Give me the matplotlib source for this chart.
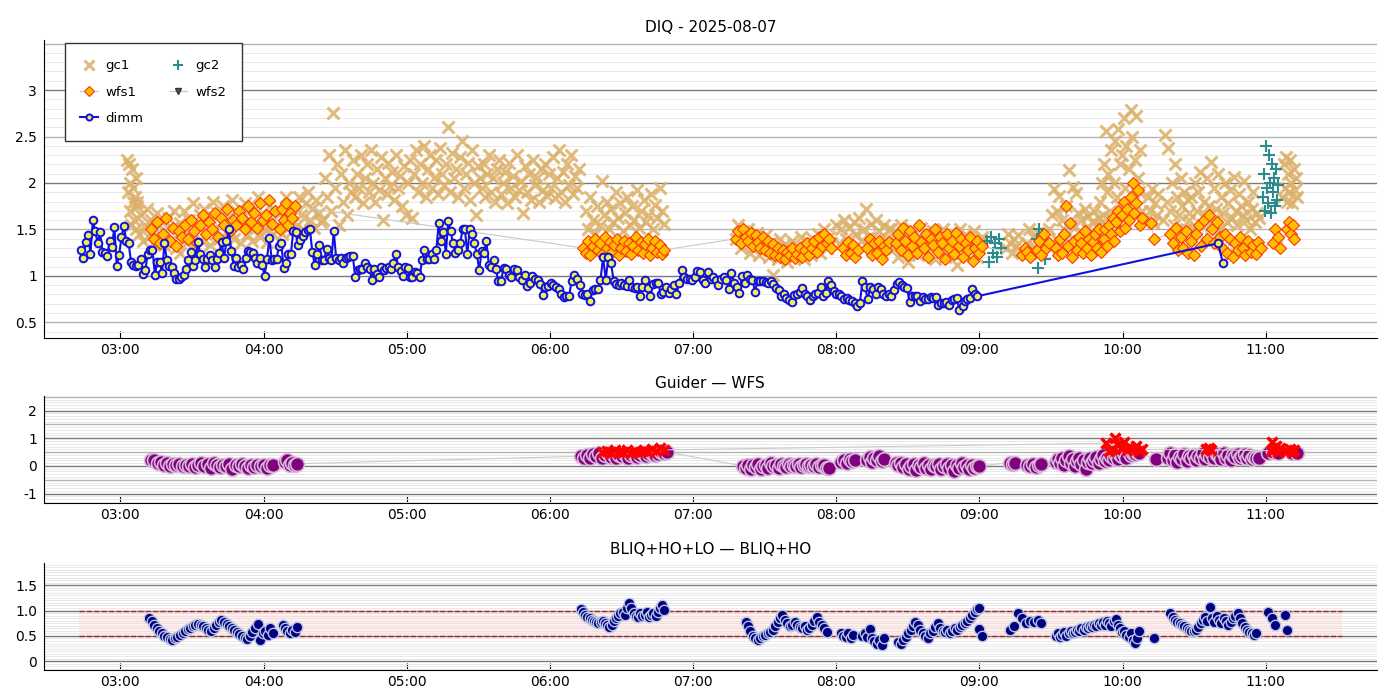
import numpy as np
import matplotlib
matplotlib.use("Agg")
import matplotlib.pyplot as plt
from matplotlib.ticker import MultipleLocator, FixedLocator, FuncFormatter

# ============================
# data (times "HH:MM", values in arcsec)
# ============================
day = "2025-08-07"

# dimm: blocks of consecutive readings (start, end, values)
dimm_blocks = [
    ("02:43.5", "05:38.4", [
        1.28, 1.19, 1.36, 1.44, 1.24, 1.60, 1.48, 1.35, 1.47, 1.26,
        1.25, 1.21, 1.37, 1.31, 1.53, 1.11, 1.22, 1.42, 1.54, 1.37,
        1.35, 1.15, 1.12, 1.11, 1.12, 1.18, 1.02, 1.06, 1.24, 1.28,
        1.28, 1.01, 1.15, 1.15, 1.03, 1.35, 1.17, 1.11, 1.09, 1.03,
        0.97, 0.97, 0.99, 1.01, 1.07, 1.17, 1.26, 1.11, 1.17, 1.36,
        1.24, 1.18, 1.10, 1.18, 1.22, 1.17, 1.10, 1.18, 1.25, 1.36,
        1.19, 1.37, 1.50, 1.27, 1.11, 1.19, 1.10, 1.12, 1.07, 1.19,
        1.27, 1.26, 1.25, 1.19, 1.14, 1.19, 1.12, 1.00, 1.18, 1.41,
        1.17, 1.18, 1.18, 1.32, 1.35, 1.08, 1.14, 1.24, 1.23, 1.48,
        1.47, 1.33, 1.39, 1.43, 1.47, 1.49, 1.50, 1.26, 1.12, 1.24,
        1.33, 1.17, 1.17, 1.29, 1.19, 1.17, 1.48, 1.19, 1.17, 1.19,
        1.14, 1.19, 1.20, 1.21, 1.21, 0.99, 1.06, 1.07, 1.07, 1.14,
        1.10, 1.07, 0.96, 1.07, 1.02, 0.99, 1.09, 1.06, 1.08, 1.09,
        1.07, 1.14, 1.24, 1.10, 1.05, 1.00, 1.09, 1.08, 0.99, 0.99,
        1.04, 1.03, 0.99, 1.17, 1.28, 1.18, 1.18, 1.24, 1.18, 1.28,
        1.57, 1.37, 1.47, 1.24, 1.59, 1.48, 1.35, 1.25, 1.28, 1.35,
        1.50, 1.50, 1.23, 1.50, 1.45, 1.35, 1.23, 1.06, 1.27, 1.25,
        1.37, 1.12, 1.09, 1.17, 1.07, 0.94]),
    ("05:39.5", "08:51.6", [
        0.95, 1.08, 1.07, 1.01, 0.99, 1.07, 1.06, 0.99, 0.96, 1.01,
        0.89, 0.92, 1.00, 0.97, 0.96, 0.91, 0.79, 0.88, 0.89, 0.92,
        0.90, 0.88, 0.86, 0.81, 0.77, 0.78, 0.78, 0.95, 1.01, 0.97,
        0.90, 0.81, 0.79, 0.81, 0.73, 0.85, 0.86, 0.86, 0.96, 1.20,
        0.96, 1.20, 1.14, 0.95, 0.91, 0.90, 0.92, 0.90, 0.89, 0.96,
        0.88, 0.87, 0.88, 0.78, 0.88, 0.96, 0.87, 0.78, 0.91, 0.92,
        0.92, 0.81, 0.83, 0.88, 0.82, 0.86, 0.90, 0.81, 0.92, 1.06,
        0.99, 0.97, 0.97, 0.96, 0.99, 1.05, 1.04, 0.96, 0.92, 1.04,
        0.97, 0.99, 0.96, 0.90, 0.97, 0.99, 0.96, 0.86, 1.03, 0.92,
        0.88, 0.82, 1.00, 0.92, 1.01, 0.97, 0.96, 0.83, 0.95, 0.94,
        0.95, 0.93, 0.92, 0.95, 0.91, 0.87, 0.85, 0.78, 0.81, 0.76,
        0.74, 0.72, 0.79, 0.81, 0.83, 0.87, 0.81, 0.78, 0.74, 0.78,
        0.81, 0.82, 0.88, 0.78, 0.82, 0.95, 0.90, 0.84, 0.81, 0.81,
        0.78, 0.75, 0.76, 0.74, 0.73, 0.71, 0.68, 0.71, 0.94, 0.88,
        0.75, 0.88, 0.86, 0.81, 0.88, 0.86, 0.81, 0.78, 0.81, 0.78,
        0.85, 0.91, 0.93, 0.90, 0.88, 0.87, 0.72, 0.78, 0.78, 0.78,
        0.73, 0.77, 0.75, 0.75, 0.77, 0.76, 0.77, 0.69, 0.71, 0.71,
        0.72, 0.69, 0.74, 0.75, 0.76, 0.63]),
    ("08:53", "08:59", [0.68, 0.73, 0.75, 0.76, 0.86, 0.81, 0.78]),
    ("10:40", "10:42", [1.35, 1.14]),
]

gc1_blocks = [
    ("03:03", "03:07", [2.25, 1.9, 2.2, 1.7, 2.0, 1.55, 2.15, 1.8, 1.95, 1.6, 1.85, 1.5, 2.05, 1.75]),
    ("03:07", "03:25", [1.8, 1.45, 1.65, 1.38, 1.55, 1.72, 1.42, 1.6, 1.35, 1.5, 1.68, 1.4, 1.58,
                        1.33, 1.47, 1.62, 1.36, 1.52, 1.7, 1.3, 1.45, 1.57]),
    ("03:25", "04:05", [1.25, 1.5, 1.7, 1.35, 1.6, 1.42, 1.78, 1.3, 1.55, 1.65, 1.38, 1.72, 1.45,
                        1.6, 1.33, 1.8, 1.5, 1.68, 1.4, 1.58, 1.75, 1.36, 1.62, 1.48, 1.82, 1.4,
                        1.7, 1.55, 1.35, 1.65, 1.78, 1.45, 1.6, 1.38, 1.72, 1.52, 1.85, 1.42,
                        1.66, 1.5, 1.36, 1.75, 1.58, 1.45, 1.7]),
    ("04:06", "04:13", [1.5, 1.7, 1.45, 1.62, 1.85, 1.55, 1.68, 1.48, 1.75]),
    ("04:14", "04:24", [1.55, 1.85, 1.65, 1.5, 1.78, 1.9, 1.6, 1.72, 1.52, 1.82, 1.68, 1.58]),
    ("04:25", "06:12", [1.6, 2.05, 1.85, 2.3, 1.7, 2.75, 1.95, 2.2, 1.55, 2.1, 1.8, 2.35, 1.65, 2.0, 1.9,
                        2.25, 1.85, 2.1, 1.95, 2.3, 1.78, 2.05, 2.2, 1.9, 2.35, 2.0, 1.8, 2.15, 1.92,
                        2.28, 1.6, 2.05, 1.88, 2.22, 1.97, 2.12, 1.82, 2.3, 1.95, 2.08, 1.75, 2.18,
                        1.66, 2.0, 2.25,
                        1.62, 2.1, 2.35, 1.9, 2.2, 2.0, 2.4, 1.85, 2.15, 2.3, 1.95, 2.05, 2.25, 1.88,
                        2.38, 2.1, 1.98, 2.2, 2.6, 1.9, 2.32, 2.05, 2.15, 1.85, 2.28, 2.45, 1.95, 2.1,
                        2.22, 1.82, 2.35, 2.0, 1.66, 2.18, 2.05,
                        1.95, 2.2, 1.85, 2.1, 2.3, 1.9, 2.05, 1.8, 2.15, 2.25, 1.88, 2.0, 2.12, 1.78,
                        2.22, 1.95, 2.08, 1.85, 2.3, 1.92, 2.02, 1.68, 2.18, 1.9, 2.1, 1.82, 2.25,
                        1.98, 2.05, 1.8, 2.15, 1.92, 2.2, 1.86, 2.1, 1.95, 2.28, 1.84, 2.05, 2.35,
                        1.9, 2.12, 1.8, 2.2, 1.98, 2.3, 1.88, 2.08, 1.95, 2.15]),
    ("06:15", "06:48", [1.7, 1.5, 1.85, 1.6, 1.45, 1.75, 1.55, 2.02, 1.65, 1.8, 1.5, 1.72, 1.58, 1.9,
                        1.62, 1.78, 1.48, 1.68, 1.85, 1.55, 1.75, 1.6, 1.92, 1.52, 1.7, 1.82, 1.58,
                        1.66, 1.88, 1.5, 1.76, 1.62, 1.95, 1.7, 1.56]),
    ("07:18", "07:58", [1.4, 1.55, 1.3, 1.48, 1.35, 1.5, 1.25, 1.42, 1.32, 1.46, 1.22, 1.38, 1.28,
                        1.44, 1.2, 1.35, 1.01, 1.3, 1.18, 1.4, 1.25, 1.34, 1.15, 1.28, 1.38, 1.2,
                        1.32, 1.24, 1.42, 1.18, 1.3, 1.36, 1.22, 1.4, 1.28, 1.45, 1.25, 1.38, 1.5,
                        1.3, 1.42, 1.35]),
    ("08:00", "08:22", [1.55, 1.35, 1.5, 1.6, 1.4, 1.52, 1.3, 1.58, 1.45, 1.62, 1.38, 1.5, 1.72,
                        1.42, 1.56, 1.35, 1.6, 1.48, 1.3, 1.55, 1.4, 1.5]),
    ("08:23", "09:01", [1.5, 1.3, 1.45, 1.2, 1.55, 1.35, 1.42, 1.15, 1.5, 1.28, 1.4, 1.22, 1.52,
                        1.33, 1.45, 1.25, 1.38, 1.48, 1.18, 1.42, 1.3, 1.5, 1.2, 1.36, 1.46, 1.25,
                        1.4, 1.12, 1.5, 1.32, 1.44, 1.22, 1.38, 1.28, 1.48, 1.2, 1.35, 1.42]),
    ("09:11", "09:17", [1.3, 1.45, 1.35, 1.25, 1.4, 1.32, 1.44, 1.28]),
    ("09:20", "09:27", [1.35, 1.5, 1.28, 1.42, 1.3, 1.46, 1.25, 1.38, 1.45]),
    ("09:29", "09:50", [1.5, 1.3, 1.65, 1.93, 1.4, 1.7, 1.86, 1.35, 1.6, 1.5, 1.75, 1.45, 2.14, 1.55,
                        1.96, 1.38, 1.89, 1.68, 1.48, 1.6, 1.32, 1.72, 1.5, 1.64, 1.42, 1.58, 1.7,
                        1.36, 1.55, 1.62]),
    ("09:50", "10:08", [1.55, 1.8, 2.0, 1.65, 2.2, 2.56, 1.9, 2.1, 1.7, 2.35, 1.6, 2.0, 2.45, 1.85,
                        2.58, 2.2, 1.75, 2.3, 2.7, 1.95, 2.4, 1.65, 2.15, 2.79, 2.5, 1.8, 2.25, 2.72,
                        2.05, 1.9, 2.35, 1.7]),
    ("10:10", "10:15", [1.6, 1.85, 1.7, 1.93, 1.57, 1.78, 1.65, 1.88]),
    ("10:17", "10:28", [1.6, 2.52, 1.8, 2.38, 1.7, 2.0, 1.55, 2.2, 1.85, 1.65, 2.05, 1.75, 1.9, 1.5,
                        1.82, 1.68]),
    ("10:28", "10:57", [1.6, 1.85, 1.5, 2.0, 1.7, 1.9, 2.12, 1.55, 1.8, 1.65, 2.05, 1.75, 2.23, 1.6,
                        1.95, 1.72, 2.1, 1.5, 1.85, 1.68, 2.0, 1.58, 1.78, 1.92, 1.62, 2.06, 1.7,
                        1.55, 1.88, 1.75, 1.65, 2.02, 1.6, 1.8, 1.5, 1.72, 1.9, 1.58, 1.68, 1.62]),
    ("11:07", "11:13", [1.85, 2.2, 1.95, 2.28, 1.8, 2.1, 1.9, 2.25, 2.0, 1.78, 2.15, 1.92, 2.05, 1.85]),
]

gc2_blocks = [
    ("09:03", "09:09", [1.38, 1.15, 1.42, 1.25, 1.35, 1.2, 1.4, 1.3]),
    ("09:24", "09:28", [1.4, 1.08, 1.5, 1.22, 1.45, 1.3, 1.18, 1.35]),
    ("10:59", "11:05", [1.85, 2.1, 1.7, 2.4, 1.95, 1.78, 2.3, 2.0, 1.68, 2.2, 1.9, 2.05, 1.75, 2.15,
                        1.82, 1.98]),
]

wfs1_blocks = [
    ("03:13", "04:05", [1.5, 1.4, 1.58, 1.35, 1.45, 1.62, 1.38, 1.52, 1.32, 1.48, 1.42, 1.55,
                        1.4, 1.6, 1.48, 1.35, 1.55, 1.65, 1.45, 1.58, 1.5, 1.68, 1.42, 1.62, 1.55,
                        1.72, 1.48, 1.6, 1.55, 1.7, 1.62, 1.5, 1.75, 1.58, 1.68, 1.52, 1.78, 1.6,
                        1.66, 1.82, 1.56, 1.7]),
    ("04:07", "04:13", [1.5, 1.72, 1.6, 1.78, 1.55, 1.68, 1.62, 1.75]),
    ("06:14", "06:48", [1.3, 1.25, 1.38, 1.22, 1.32, 1.4, 1.28, 1.35, 1.24, 1.42, 1.3, 1.36, 1.26,
                        1.33, 1.4, 1.22, 1.3, 1.38, 1.27, 1.35, 1.24, 1.32, 1.42, 1.28, 1.36, 1.25,
                        1.34, 1.4, 1.22, 1.3, 1.38, 1.26, 1.33, 1.24, 1.28]),
    ("07:18", "07:58", [1.4, 1.48, 1.35, 1.5, 1.42, 1.38, 1.46, 1.32, 1.44, 1.36, 1.3, 1.42, 1.28,
                        1.38, 1.25, 1.34, 1.22, 1.3, 1.2, 1.28, 1.18, 1.26, 1.22, 1.3, 1.19, 1.24,
                        1.3, 1.2, 1.28, 1.35, 1.22, 1.3, 1.38, 1.26, 1.42, 1.32, 1.45, 1.35, 1.4, 1.3]),
    ("08:03", "08:09", [1.3, 1.22, 1.36, 1.25, 1.33, 1.2, 1.28]),
    ("08:13", "08:22", [1.3, 1.4, 1.22, 1.35, 1.25, 1.38, 1.18, 1.32, 1.28, 1.36]),
    ("08:25", "09:01", [1.35, 1.45, 1.28, 1.52, 1.38, 1.22, 1.48, 1.32, 1.42, 1.25, 1.55, 1.36, 1.3,
                        1.45, 1.2, 1.4, 1.33, 1.5, 1.26, 1.42, 1.35, 1.18, 1.45, 1.3, 1.38, 1.24,
                        1.46, 1.32, 1.4, 1.2, 1.35, 1.28, 1.42, 1.16, 1.3, 1.38, 1.25, 1.32]),
    ("09:18", "09:21", [1.22, 1.3, 1.26, 1.2]),
    ("09:24", "09:29", [1.28, 1.38, 1.22, 1.45, 1.3, 1.35]),
    ("09:32", "09:52", [1.3, 1.22, 1.4, 1.25, 1.45, 1.75, 1.32, 1.57, 1.2, 1.38, 1.28, 1.42, 1.35,
                        1.25, 1.48, 1.3, 1.4, 1.22, 1.36, 1.45, 1.3, 1.5, 1.26, 1.38]),
    ("09:52", "10:08", [1.4, 1.5, 1.32, 1.55, 1.45, 1.62, 1.38, 1.58, 1.7, 1.48, 1.65, 1.8, 1.52,
                        1.72, 1.6, 1.85, 2.0, 1.68, 1.78, 1.92, 1.55, 1.62]),
    ("10:12", "10:13", [1.57, 1.4]),
    ("10:20", "10:58", [1.45, 1.35, 1.52, 1.28, 1.42, 1.3, 1.48, 1.25, 1.38, 1.22, 1.45, 1.55, 1.32,
                        1.6, 1.4, 1.65, 1.5, 1.35, 1.58, 1.42, 1.3, 1.45, 1.25, 1.4, 1.2, 1.35,
                        1.28, 1.42, 1.3, 1.22, 1.38, 1.26, 1.33, 1.24, 1.36, 1.3]),
    ("11:03", "11:06", [1.35, 1.5, 1.42, 1.3]),
    ("11:09", "11:12", [1.5, 1.58, 1.45, 1.55, 1.4]),
]

wfs2_blocks = []

# Guider - WFS
diff_blocks = [
    ("03:13", "04:04", [0.2, 0.22, 0.12, 0.15, 0.05, 0.1, 0.0, 0.08, 0.02, 0.06, -0.02, 0.05, 0.0,
                        0.08, -0.05, 0.04, 0.1, 0.0, 0.06, -0.08, 0.12, 0.02, -0.04, 0.05, 0.0,
                        0.08, -0.1, 0.02, -0.02, 0.06, 0.0, -0.08, 0.03, -0.05, 0.05, -0.02, 0.02,
                        -0.06, 0.04, 0.02]),
    ("04:09", "04:14", [0.15, 0.22, 0.05, 0.12, 0.02, 0.08]),
    ("06:13", "06:49", [0.35, 0.3, 0.4, 0.28, 0.42, 0.35, 0.45, 0.3, 0.38, 0.46, 0.32, 0.42, 0.28,
                        0.4, 0.35, 0.44, 0.3, 0.38, 0.42, 0.33, 0.4, 0.45, 0.36, 0.42, 0.48, 0.38,
                        0.44, 0.5, 0.46, 0.5]),
    ("07:21", "07:57", [0.0, -0.08, 0.05, -0.12, 0.02, -0.05, 0.08, -0.1, 0.0, 0.05, -0.06, 0.1,
                        -0.02, 0.04, -0.08, 0.06, 0.0, -0.04, 0.08, -0.02, 0.04, 0.0, 0.06, -0.05,
                        0.02, 0.08, -0.02, 0.05, 0.0, 0.06, -0.04, 0.04, 0.02, -0.08, -0.06]),
    ("08:02", "08:08", [0.15, 0.22, 0.12, 0.25, 0.18, 0.2]),
    ("08:13", "08:20", [0.2, 0.32, 0.15, 0.3, 0.22, 0.35, 0.18, 0.25]),
    ("08:25", "09:00", [0.1, 0.02, 0.12, -0.05, 0.06, -0.1, 0.0, 0.08, -0.15, 0.04, -0.05, 0.1, -0.08,
                        0.02, -0.12, 0.05, -0.02, 0.08, -0.1, 0.0, 0.06, -0.06, 0.02, -0.2, 0.04,
                        -0.08, 0.1, -0.04, 0.02, -0.12, 0.05, -0.06, 0.0, 0.0]),
    ("09:13", "09:15", [0.12, 0.08, 0.1]),
    ("09:20", "09:26", [0.05, 0.0, 0.08, -0.05, 0.02, 0.06]),
    ("09:32", "10:07", [0.15, 0.25, 0.1, 0.3, 0.05, 0.2, 0.35, 0.12, 0.25, 0.0, 0.18, 0.3, 0.08, 0.22,
                        -0.1, 0.15, 0.28, 0.1, 0.2, 0.32, 0.12, 0.25, 0.38, 0.18, 0.28, 0.22, 0.35,
                        0.3, 0.4, 0.25, 0.42, 0.35, 0.45, 0.3, 0.5, 0.4, 0.48, 0.42, 0.52, 0.45]),
    ("10:14", "10:14", [0.25]),
    ("10:19", "10:57", [0.3, 0.45, 0.2, 0.38, 0.15, 0.32, 0.25, 0.42, 0.18, 0.35, 0.28, 0.4, 0.22,
                        0.36, 0.3, 0.45, 0.25, 0.4, 0.32, 0.48, 0.28, 0.42, 0.35, 0.25, 0.45, 0.3,
                        0.4, 0.22, 0.38, 0.32, 0.44, 0.28, 0.36, 0.42, 0.3, 0.38, 0.26, 0.34, 0.3,
                        0.28]),
    ("11:01", "11:05", [0.45, 0.5, 0.48]),
    ("11:11", "11:13", [0.48, 0.45]),
]

diff_flag_blocks = [
    ("06:22", "06:48", [0.5, 0.55, 0.48, 0.58, 0.52, 0.5, 0.56, 0.48, 0.54, 0.5, 0.58, 0.52, 0.62,
                        0.55, 0.65, 0.58]),
    ("09:53", "10:08", [0.82, 0.55, 0.6, 1.0, 0.75, 0.65, 0.88, 0.58, 0.7, 0.62, 0.72, 0.55, 0.6]),
    ("10:35", "10:37", [0.6, 0.66, 0.58]),
    ("11:02", "11:06", [0.55, 0.88, 0.6, 0.72, 0.5, 0.65]),
    ("11:09", "11:12", [0.55, 0.6, 0.52, 0.58]),
]

# BLIQ+HO+LO - BLIQ+HO
bliq_blocks = [
    ("03:12", "04:04", [0.85, 0.8, 0.72, 0.66, 0.6, 0.55, 0.5, 0.47, 0.44, 0.42, 0.45, 0.48, 0.52,
                        0.55, 0.6, 0.63, 0.66, 0.7, 0.72, 0.74, 0.72, 0.7, 0.66, 0.62, 0.6, 0.65,
                        0.72, 0.78, 0.82, 0.78, 0.74, 0.7, 0.66, 0.62, 0.58, 0.54, 0.5, 0.46, 0.44,
                        0.5, 0.58, 0.66, 0.74, 0.42, 0.55, 0.6, 0.52, 0.65, 0.56]),
    ("04:08", "04:14", [0.72, 0.65, 0.6, 0.55, 0.62, 0.58, 0.67]),
    ("06:13", "06:48", [1.03, 0.98, 0.92, 0.88, 0.85, 0.82, 0.8, 0.78, 0.76, 0.78, 0.8, 0.75, 0.72,
                        0.68, 0.72, 0.8, 0.85, 0.9, 0.95, 0.98, 0.92, 1.05, 1.14, 1.05, 0.95, 0.9,
                        0.88, 0.95, 0.9, 0.92, 0.98, 0.88, 0.92, 0.95, 0.9, 0.98, 1.05, 1.1, 1.01]),
    ("07:22", "07:56", [0.78, 0.7, 0.6, 0.5, 0.45, 0.42, 0.46, 0.5, 0.52, 0.55, 0.58, 0.62, 0.7, 0.78,
                        0.85, 0.91, 0.82, 0.75, 0.7, 0.72, 0.78, 0.72, 0.68, 0.65, 0.7, 0.62, 0.66,
                        0.72, 0.8, 0.88, 0.78, 0.72, 0.65, 0.58]),
    ("08:02", "08:07", [0.55, 0.5, 0.48, 0.55, 0.45, 0.52]),
    ("08:11", "08:20", [0.5, 0.55, 0.48, 0.63, 0.45, 0.4, 0.35, 0.42, 0.32, 0.45]),
    ("08:26", "09:00", [0.38, 0.35, 0.42, 0.48, 0.55, 0.62, 0.7, 0.78, 0.72, 0.62, 0.55, 0.5, 0.45,
                        0.55, 0.6, 0.68, 0.75, 0.65, 0.6, 0.58, 0.62, 0.55, 0.6, 0.65, 0.62, 0.68,
                        0.72, 0.75, 0.8, 0.85, 0.92, 0.98, 1.03, 1.05]),
    ("09:00", "09:01", [0.63, 0.5]),
    ("09:13", "09:26", [0.62, 0.7, 0.95, 0.85, 0.75, 0.8, 0.78, 0.82, 0.75]),
    ("09:32", "10:07", [0.5, 0.55, 0.48, 0.52, 0.58, 0.5, 0.55, 0.6, 0.55, 0.58, 0.62, 0.6, 0.65,
                        0.62, 0.68, 0.65, 0.7, 0.68, 0.72, 0.7, 0.75, 0.72, 0.78, 0.72, 0.8, 0.75,
                        0.7, 0.8, 0.83, 0.72, 0.65, 0.58, 0.6, 0.52, 0.48, 0.55, 0.42, 0.36, 0.45,
                        0.59]),
    ("10:13", "10:13", [0.45]),
    ("10:20", "10:56", [0.96, 0.88, 0.82, 0.78, 0.75, 0.72, 0.7, 0.65, 0.62, 0.6, 0.59, 0.62, 0.68,
                        0.75, 0.82, 0.88, 0.8, 1.07, 0.85, 0.78, 0.9, 0.82, 0.75, 0.85, 0.8, 0.72,
                        0.78, 0.85, 0.9, 0.95, 0.85, 0.75, 0.68, 0.62, 0.58, 0.55, 0.52, 0.55]),
    ("11:01", "11:04", [0.98, 0.85, 0.72]),
    ("11:08", "11:09", [0.92, 0.62]),
]

band_lo, band_hi = 0.5, 1.0
band_span = ("02:42.6", "11:32")
xlim_span = ("02:28", "11:46.5")


def hm(s):
    h, m = s.split(":")
    return int(h) + float(m) / 60.0


def unpack(blocks):
    # readings of one block are spread evenly between its first and last time
    t, v = [], []
    for a, b, vals in blocks:
        t.extend(np.linspace(hm(a), hm(b), len(vals)))
        v.extend(vals)
    return np.array(t), np.array(v)


def style_axes(ax, ylim, ticks, labels, minor, dark, mid):
    ax.set_xlim(hm(xlim_span[0]), hm(xlim_span[1]))
    ax.set_ylim(*ylim)
    for s in ("top", "right"):
        ax.spines[s].set_visible(False)
    ax.yaxis.set_major_locator(FixedLocator(ticks))
    ax.set_yticklabels(labels)
    ax.yaxis.set_minor_locator(MultipleLocator(minor))
    ax.grid(which="minor", axis="y", color="#e9e9e9", lw=0.7, zorder=0)
    for y in dark:
        ax.axhline(y, color="#7a7a7a", lw=1.0, zorder=0.6)
    for y in mid:
        ax.axhline(y, color="#b4b4b4", lw=1.0, zorder=0.6)
    ax.xaxis.set_major_locator(MultipleLocator(1))
    ax.xaxis.set_major_formatter(FuncFormatter(lambda x, p: f"{int(round(x)):02d}:00"))
    ax.tick_params(axis="x", direction="in", length=5, labelsize=10)
    ax.tick_params(axis="y", which="both", length=0, labelsize=10, pad=5)
    ax.set_axisbelow(True)


fig = plt.figure(figsize=(14, 7), dpi=100)
ax1 = fig.add_axes([0.0314, 0.517, 0.952, 0.426])
ax2 = fig.add_axes([0.0314, 0.281, 0.952, 0.153])
ax3 = fig.add_axes([0.0314, 0.043, 0.952, 0.153])

# ---- top: DIQ
t, v = unpack(gc1_blocks)
h_gc1, = ax1.plot(t, v, ls="none", marker="x", ms=9, mew=2.2, color="#dcb068", alpha=0.85,
                  label="gc1", zorder=2)
t, v = unpack(gc2_blocks)
h_gc2, = ax1.plot(t, v, ls="none", marker="+", ms=9, mew=1.5, color="#2e8b8b", label="gc2", zorder=2)
t, v = unpack(wfs1_blocks)
h_wfs1, = ax1.plot(t, v, "-", color="#c8c8c8", lw=0.8, marker="D", ms=6.5, mfc="#ffc000",
                   mec="#ff3300", mew=0.8, label="wfs1", zorder=3)
t, v = unpack(wfs2_blocks) if wfs2_blocks else ([], [])
h_wfs2, = ax1.plot(t, v, "-", color="#c8c8c8", lw=0.8, marker="v", ms=6, mfc="#555555",
                   mec="#333333", label="wfs2", zorder=3)
t, v = unpack(dimm_blocks)
h_dimm, = ax1.plot(t, v, "-", color="#1010e0", lw=1.5, marker="o", ms=5.5, mfc="#eeee55",
                   mec="#1010e0", mew=1.4, label="dimm", zorder=4)

style_axes(ax1, (0.33, 3.54), [0.5, 1, 1.5, 2, 2.5, 3], ["0.5", "1", "1.5", "2", "2.5", "3"],
           0.1, [1, 2, 3], [0.5, 1.5, 2.5, 3.5])
ax1.set_title(f"DIQ - {day}", fontsize=11)
leg = ax1.legend(handles=[h_gc1, h_wfs1, h_dimm, h_gc2, h_wfs2], ncol=2, loc="upper left",
                 bbox_to_anchor=(0.0155, 0.988), borderaxespad=0, fontsize=9.5, fancybox=False,
                 framealpha=1, edgecolor="#333333", labelspacing=1.0, borderpad=1.2,
                 handlelength=1.3, handletextpad=0.6, columnspacing=2.0, markerscale=0.8)
leg.get_frame().set_linewidth(1.0)

# ---- middle: Guider - WFS
t, v = unpack(diff_blocks)
ax2.plot(t, v, "-", color="#cccccc", lw=0.8, marker="o", ms=10, mfc="#800080", mec="#d8b8d8",
         mew=1.2, zorder=3)
t, v = unpack(diff_flag_blocks)
ax2.plot(t, v, "-", color="#cccccc", lw=0.8, marker="x", ms=7, mew=2.5, mec="red", zorder=4)
style_axes(ax2, (-1.35, 2.52), [-1, 0, 1, 2], ["-1", "0", "1", "2"], 0.1,
           [-1, 0, 1, 2], [-0.5, 0.5, 1.5, 2.5])
ax2.set_title("Guider \u2014 WFS", fontsize=11)

# ---- bottom: BLIQ+HO+LO - BLIQ+HO
x0, x1 = hm(band_span[0]), hm(band_span[1])
ax3.fill_between([x0, x1], band_lo, band_hi, color="#ffc8c8", alpha=0.3, lw=0, zorder=1)
ax3.hlines([band_lo, band_hi], x0, x1, colors="#b22222", linestyles="--", lw=1, zorder=2)
t, v = unpack(bliq_blocks)
ax3.plot(t, v, ls="none", marker="o", ms=7.5, mfc="#000080", mec="#b8c4e0", mew=1.0, zorder=3)
style_axes(ax3, (-0.17, 1.94), [0, 0.5, 1.0, 1.5], ["0", "0.5", "1.0", "1.5"], 0.05,
           [0, 0.5, 1.0, 1.5], [])
ax3.set_title("BLIQ+HO+LO \u2014 BLIQ+HO", fontsize=11)

fig.savefig("out.png", dpi=100)
plt.close(fig)
